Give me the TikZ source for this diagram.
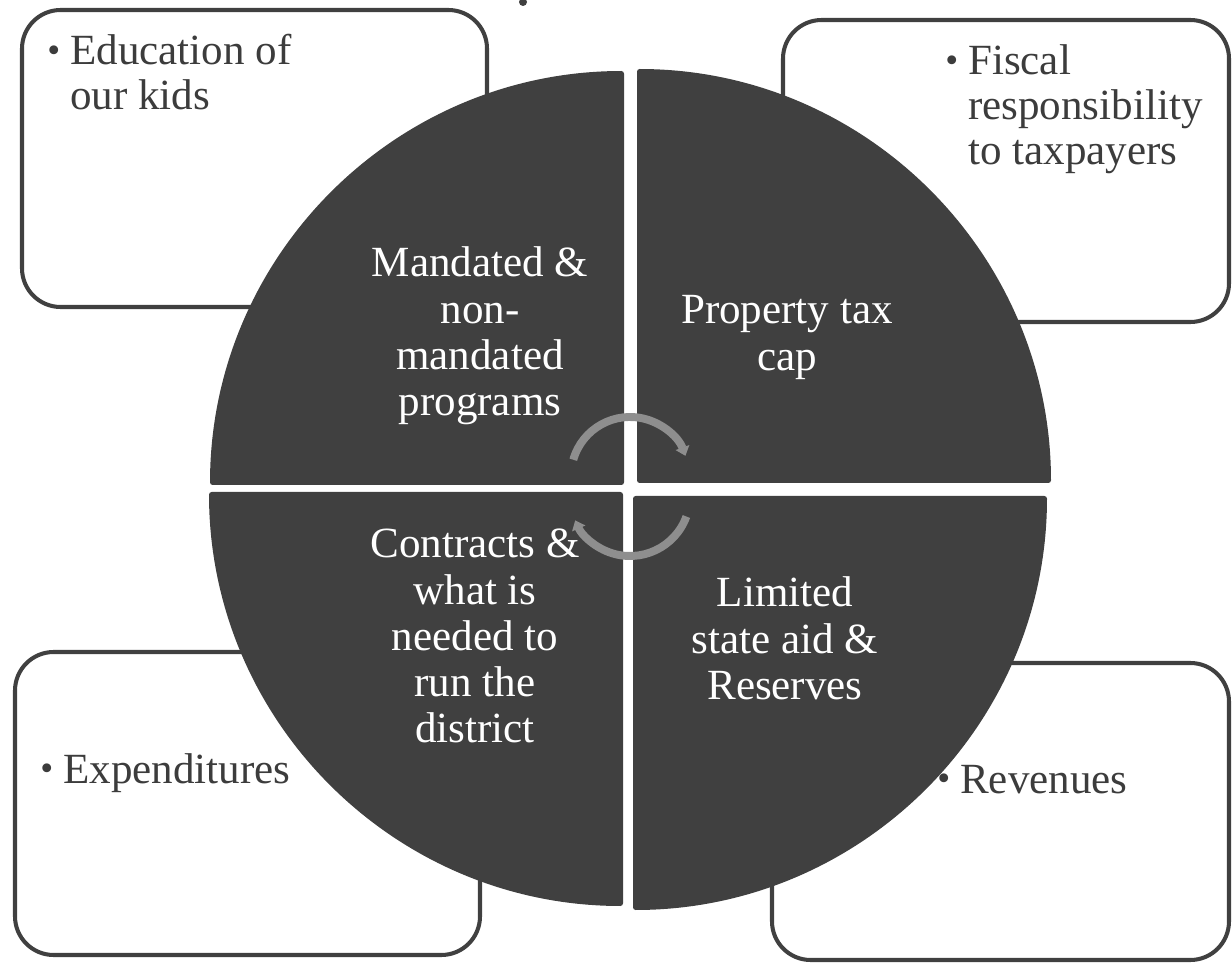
\documentclass[tikz,border=0pt]{standalone}
\usepackage{fontspec}
\setmainfont{Liberation Serif}
\usetikzlibrary{arrows.meta}
\definecolor{pie}{HTML}{404040}
\definecolor{ink}{HTML}{3C3C3C}
\definecolor{cyc}{HTML}{8E8E8E}
\newcommand\wl[1]{\begin{tabular}[t]{@{}c@{}}#1\end{tabular}}
\newcommand\bl[1]{\begin{tabular}[t]{@{}l@{}l@{}}#1\end{tabular}}
\newcommand\bul{\makebox[13pt][l]{\raisebox{1.5pt}{\fontsize{21}{21}\selectfont\textbullet}}}
\begin{document}
\begin{tikzpicture}[x=0.02cm,y=0.02cm,
  every node/.style={inner sep=0pt, font=\fontsize{24.5}{25.5}\selectfont},
  sidebox/.style={draw=pie, line width=2.3pt, fill=white, rounded corners=22pt},
  wedge/.style={fill=pie, rounded corners=1.5pt},
  intext/.style={text=white, anchor=base, font=\fontsize{24.5}{26.3}\selectfont},
  outtext/.style={text=ink, anchor=base west},
  cycarrow/.style={draw=cyc, line width=4.5pt, -{Triangle[length=5pt,width=8pt]}}]
\useasboundingbox (0,0) rectangle (1232,965);
% side boxes
\draw[sidebox] (22,955) rectangle (487,658);
\draw[sidebox] (783,945) rectangle (1229,643);
\draw[sidebox] (15,313) rectangle (480,10);
\draw[sidebox] (772,302) rectangle (1229,5);
% title fragment
\fill[pie] (523,963) circle (4);
% box texts
\node[outtext] (edu) at (47,900) {\bl{\bul&Education of\\&our kids}};
\node[outtext] (fis) at (945,890) {\bl{\bul&Fiscal\\&responsibility\\&to taxpayers}};
\node[outtext] (exp) at (40,182) {\bl{\bul&Expenditures}};
\node[outtext] (rev) at (937,172) {\bl{\bul&Revenues}};
% wedges
\path[wedge] (624,480) -- ++(180:414) arc[start angle=180,end angle=90,radius=414] -- cycle;
\path[wedge] (637,482) -- ++(90:414) arc[start angle=90,end angle=0,radius=414] -- cycle;
\path[wedge] (623,473) -- ++(270:414) arc[start angle=270,end angle=180,radius=414] -- cycle;
\path[wedge] (633,469) -- ++(0:414) arc[start angle=0,end angle=-90,radius=414] -- cycle;
% wedge texts
\node[intext] (mand) at (480,688) {\wl{Mandated \&\\non-\\mandated\\programs}};
\node[intext] (prop) at (787,641) {\wl{Property tax\\cap}};
\node[intext] (cont) at (475,407) {\wl{Contracts \&\\what is\\needed to\\run the\\district}};
\node[intext] (lim) at (785,358) {\wl{Limited\\state aid \&\\Reserves}};
% cycle arrows
\draw[cycarrow] (630,489) ++(164:59) arc[start angle=164,end angle=20,radius=59];
\draw[cycarrow] (630,469) ++(-20:60) arc[start angle=-20,end angle=-156,radius=60];
\end{tikzpicture}
\end{document}
